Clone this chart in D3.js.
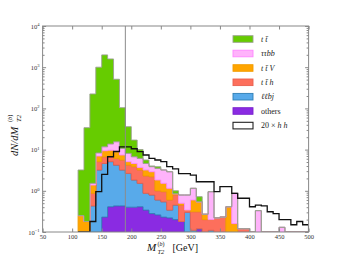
<!DOCTYPE html>
<html><head><meta charset="utf-8">
<script src="https://cdn.jsdelivr.net/npm/d3@7"></script>
<style>html,body{margin:0;padding:0;background:#fff;}svg{display:block;}</style>
</head><body>
<svg id="c" width="343" height="258"></svg>
<script>
// bin lower edges (GeV), width 10
const bins = [110,120,130,140,150,160,170,180,190,200,210,220,230,240,250,260,270,280,290,300,310,320,330,340,350,360,370,380,390,400,410,420,430,440,450,460,470,480,490];
const binWidth = 10;
// stacked series (bottom -> top)
const others = [0,0,0,0,0.23,0.41,0.43,0.43,0.40,0.40,0.41,0.34,0.28,0.26,0.23,0.22,0.2,0.18,0,0,0.12,0.1,0,0,0,0,0,0,0,0,0,0,0,0,0,0,0,0,0];
const llbj = [0,0,0.43,3.2,4.37,4.69,3.77,2.77,2.25,1.43,1.11,0.53,0.51,0.34,0.31,0.12,0.25,0,0.3,0.11,0,0,0.11,0,0,0,0,0,0,0,0,0,0,0,0,0,0,0,0];
const tth = [0,0,0.44,1.9,2.1,1.9,1.9,2.4,1.55,2.02,1.68,1.43,1.41,0.4,0.41,0.26,0.35,0.27,0.04,0.2,0.19,0.1,0.09,0.22,0.23,0,0,0.12,0.12,0,0,0,0,0,0,0,0,0,0];
const ttV = [0.25,0.18,0.51,1.9,2.7,2.7,2.8,1.8,0.9,0.75,0.5,0.9,0.7,0.83,0.57,0.55,0.05,0.05,0,0.29,0.23,0.07,0,0,0,0.41,0.16,0,0,0,0,0,0,0,0,0,0,0,0];
const tautaubb = [0,0,0.14,1.3,2.3,4.0,6.6,3.3,3.0,2.1,2.4,1.4,0.95,1.67,1.68,1.75,0,0.29,0.45,0.55,0,0,0.75,0,0,0,0.71,0,0,0,0.33,0,0,0,0.13,0,0,0,0];
const ttbar = [2.95,33.8,222.5,991.7,1978,1571,494.5,93.3,27.9,10.3,3.9,1.0,0.15,0.35,0,0,0.15,0,0,0,0.18,0,0,0,0,0,0,0,0,0,0,0,0,0,0,0,0,0,0];
// 20 x hh (not stacked)
const hh20 = [0,0,0.18,0.95,2.5,6.7,9,11.6,11.6,10.5,8.9,7.4,6.1,5.6,5.1,3.85,3.4,2.6,2.6,2.4,1.66,1.66,1.66,0.95,1.26,1.26,0.87,0.66,0.66,0.41,0.45,0.43,0.31,0.28,0.2,0.2,0.15,0.18,0.15];
const cutLine = 190;
const xTicks = [50,100,150,200,250,300,350,400,450,500];
const yTicks = [0.1,1,10,100,1000,10000];
const yTickExp = ["\u22121","0","1","2","3","4"];

const seriesKeys = ["others","llbj","tth","ttV","tautaubb","ttbar"];
const seriesData = {others, llbj, tth, ttV, tautaubb, ttbar};
const styles = {
  ttbar:{fill:"#66cc00",stroke:"#9aa08f"},
  tautaubb:{fill:"#ffb3fb",stroke:"#ff86ff"},
  ttV:{fill:"#ffa500",stroke:"#f29c00"},
  tth:{fill:"#fd6f5c",stroke:"#e8604f"},
  llbj:{fill:"#58aaea",stroke:"#2f7fb5"},
  others:{fill:"#8a2be2",stroke:"#7a22cc"}
};
const legendItems = [
  {key:"ttbar", label:[["t",1],[" t\u0304",1]]},
  {key:"tautaubb", label:[["\u03c4\u03c4bb",1]]},
  {key:"ttV", label:[["t",1],[" t\u0304",1],[" V",1]]},
  {key:"tth", label:[["t",1],[" t\u0304",1],[" h",1]]},
  {key:"llbj", label:[["\u2113\u2113bj",1]]},
  {key:"others", label:[["others",0]]},
  {key:"hh", label:[["20 \u00d7  ",0],["h h",1]]}
];

const svg = d3.select("#c");
const L=42.6, R=308.6, T=26, B=232;
const x = d3.scaleLinear().domain([50,500]).range([L,R]);
const y = d3.scaleLog().domain([0.1,1e4]).range([B,T]).clamp(true);
const yv = v => y(Math.max(v,0.1));

const table = bins.map((b,i)=>{const o={bin:b}; seriesKeys.forEach(k=>o[k]=seriesData[k][i]); return o;});
const stack = d3.stack().keys(seriesKeys)(table);

svg.append("defs").append("clipPath").attr("id","pc").append("rect")
  .attr("x",L).attr("y",T).attr("width",R-L).attr("height",B-T);
const plot = svg.append("g").attr("clip-path","url(#pc)");

function stepPts(layer){
  const pts = layer.map((d,i)=>({x:bins[i], y0:d[0], y1:d[1]}));
  const last = layer[layer.length-1];
  pts.push({x:bins[bins.length-1]+binWidth, y0:last[0], y1:last[1]});
  return pts;
}
const area = d3.area().curve(d3.curveStepAfter)
  .x(d=>x(d.x)).y0(d=>yv(d.y0)).y1(d=>yv(d.y1));

stack.forEach(layer=>{
  const st = styles[layer.key];
  plot.append("path").attr("d",area(stepPts(layer)))
    .attr("fill",st.fill).attr("stroke",st.stroke).attr("stroke-width",0.9);
});

// hh outline
const hhPts = hh20.map((v,i)=>({x:bins[i], v}));
hhPts.push({x:bins[bins.length-1]+binWidth, v:hh20[hh20.length-1]});
const line = d3.line().curve(d3.curveStepAfter).x(d=>x(d.x)).y(d=>yv(d.v));
const full = [{x:bins[0],v:0.1}].concat(hhPts).concat([{x:500,v:0.1}]);
plot.append("path").attr("d",line(full)).attr("fill","none").attr("stroke","#111").attr("stroke-width",1.3);

// cut line
svg.append("line").attr("x1",x(cutLine)).attr("x2",x(cutLine)).attr("y1",T).attr("y2",B)
  .attr("stroke","#8c8c8c").attr("stroke-width",1);

// axes
const axCol = "#888";
const serif = "Liberation Serif, DejaVu Serif, serif";
const minor = [];
for (let e=-1;e<4;e++) for (let m=2;m<10;m++) minor.push(m*Math.pow(10,e));
function styleAxis(g){ g.select(".domain").remove(); g.selectAll("line").attr("stroke",axCol); }
svg.append("g").attr("transform",`translate(0,${B})`)
  .call(d3.axisBottom(x).tickValues(xTicks).tickSize(-3.5).tickPadding(2).tickFormat(d3.format("d")))
  .call(styleAxis)
  .call(g=>g.selectAll("text").attr("font-family",serif).attr("font-size",6.5).attr("fill","#333"));
svg.append("g").attr("transform",`translate(0,${T})`)
  .call(d3.axisTop(x).tickValues(xTicks).tickSize(-3.5).tickFormat(""))
  .call(styleAxis);
const yl = svg.append("g").attr("transform",`translate(${L},0)`)
  .call(d3.axisLeft(y).tickValues(yTicks).tickSize(-3.5).tickPadding(3).tickFormat(""))
  .call(styleAxis);
svg.append("g").attr("transform",`translate(${L},0)`)
  .call(d3.axisLeft(y).tickValues(minor).tickSize(-2).tickFormat(""))
  .call(styleAxis);
svg.append("g").attr("transform",`translate(${R},0)`)
  .call(d3.axisRight(y).tickValues(yTicks).tickSize(-3.5).tickFormat(""))
  .call(styleAxis);
svg.append("g").attr("transform",`translate(${R},0)`)
  .call(d3.axisRight(y).tickValues(minor).tickSize(-2).tickFormat(""))
  .call(styleAxis);
yl.selectAll(".tick").each(function(d,i){
  const t = d3.select(this).append("text").attr("x",-3).attr("dy","0.32em")
    .attr("text-anchor","end").attr("font-family",serif)
    .attr("font-size",6.5).attr("fill","#333");
  t.append("tspan").text("10");
  t.append("tspan").attr("dy",-2.6).attr("font-size",4.6).text(yTickExp[i]);
});

// frame
svg.append("rect").attr("x",L).attr("y",T).attr("width",R-L).attr("height",B-T)
  .attr("fill","none").attr("stroke",axCol).attr("stroke-width",1);

// axis labels
const xl = svg.append("g").attr("font-family",serif).attr("fill","#111");
xl.append("text").attr("x",147).attr("y",250.5).attr("font-size",11).attr("font-style","italic").text("M");
xl.append("text").attr("x",157.5).attr("y",253.8).attr("font-size",6.5).attr("font-style","italic").text("T2");
const xs = xl.append("text").attr("x",157.5).attr("y",246.3).attr("font-size",6);
xs.append("tspan").text("(");xs.append("tspan").attr("font-style","italic").text("b");xs.append("tspan").text(")");
xl.append("text").attr("x",172.5).attr("y",250.5).attr("font-size",10).text("[GeV]");

const ylab = svg.append("g").attr("transform","translate(18,130) rotate(-90)").attr("font-family",serif).attr("fill","#111");
ylab.append("text").attr("x",-26).attr("y",0).attr("font-size",10.5).attr("font-style","italic").text("dN/dM");
ylab.append("text").attr("x",8).attr("y",2.6).attr("font-size",6.8).attr("font-style","italic").text("T2");
const sup = ylab.append("text").attr("x",8).attr("y",-6.5).attr("font-size",6.3);
sup.append("tspan").text("(");sup.append("tspan").attr("font-style","italic").text("b");sup.append("tspan").text(")");

// legend
const lg = svg.append("g").attr("font-family",serif);
const legY = [39,53.5,68,82.3,96.7,111,125.6];
legendItems.forEach((it,i)=>{
  const yy = legY[i];
  const st = it.key==="hh" ? {fill:"#fff",stroke:"#222"} : styles[it.key];
  lg.append("rect").attr("x",233).attr("y",yy-3.3).attr("width",20).attr("height",6.6)
    .attr("fill",st.fill).attr("stroke",st.stroke).attr("stroke-width",it.key==="hh"?1.1:0.9);
  const t = lg.append("text").attr("x",261).attr("y",yy+2.6).attr("font-size",8).attr("fill","#222");
  it.label.forEach(p=>t.append("tspan").attr("font-style",p[1]?"italic":"normal").text(p[0]));
});
</script>
</body></html>
